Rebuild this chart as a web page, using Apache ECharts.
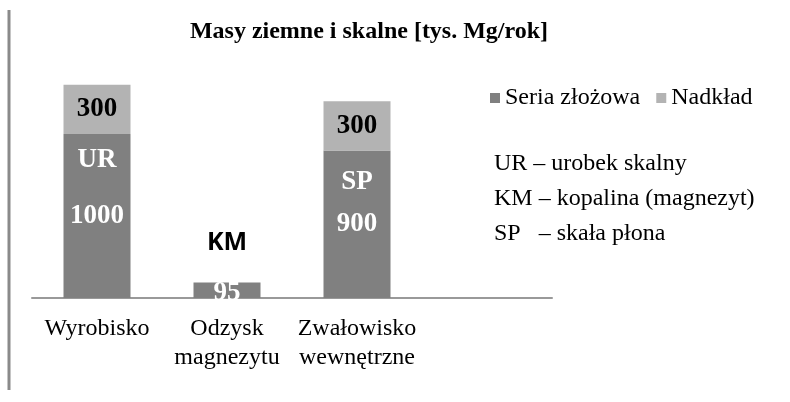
<!DOCTYPE html>
<html>
<head>
<meta charset="utf-8">
<script src="https://cdn.jsdelivr.net/npm/echarts@6/dist/echarts.min.js"></script>
<style>
    html, body { margin: 0; padding: 0; background: #fff; }
    #chart { width: 790px; height: 402px; }
</style>
</head>
<body>
<div id="chart"></div>
<script>
const categories = ["Wyrobisko", "Odzysk\nmagnezytu", "Zwałowisko\nwewnętrzne", ""];
const seriaValues = [1000, 95, 900, null];
const nadkladValues = [300, null, 300, null];
const barTags = ["UR", "KM", "SP", ""];
const notes = ["UR – urobek skalny", "KM – kopalina (magnezyt)", "SP   – skała płona"];

const serif = "Liberation Serif";
const darkGray = "#808080";
const lightGray = "#b3b3b3";

// per-bar gap between tag and value inside the lower segment
const tagGap = [56, 0, 42, 0];

const seriaData = seriaValues.map(function (v, i) {
    if (v === null) return null;
    if (barTags[i] === "KM") {
        return {
            value: v,
            label: {
                formatter: "{k|KM}\n{v|" + v + "}",
                offset: [0, -22],
                rich: {
                    k: { fontFamily: "Open Sans", fontWeight: "bold", fontSize: 25, color: "#000", lineHeight: 50 },
                    v: { fontFamily: serif, fontWeight: "bold", fontSize: 27, color: "#fff", lineHeight: 50 }
                }
            }
        };
    }
    return {
        value: v,
        label: {
            formatter: barTags[i] + "\n" + v,
            lineHeight: tagGap[i],
            offset: [0, -tagGap[i] / 2]
        }
    };
});

const chart = echarts.init(document.getElementById("chart"));
chart.setOption({
    animation: false,
    title: {
        text: "Masy ziemne i skalne [tys. Mg/rok]",
        left: 364,
        top: 15,
        textAlign: "center",
        textStyle: { fontFamily: serif, fontWeight: "bold", fontSize: 24, color: "#000" }
    },
    legend: {
        left: 485,
        top: 81,
        itemWidth: 10,
        itemHeight: 10,
        itemGap: 16,
        icon: "rect",
        textStyle: { fontFamily: serif, fontSize: 24, color: "#000" },
        data: ["Seria złożowa", "Nadkład"]
    },
    grid: { left: 32, right: 238, top: 52, bottom: 104 },
    xAxis: {
        type: "category",
        data: categories,
        axisLine: { lineStyle: { color: "#999", width: 2 } },
        axisTick: { show: false },
        axisLabel: {
            interval: 0,
            margin: 16,
            fontFamily: serif,
            fontSize: 24,
            lineHeight: 29,
            color: "#000"
        }
    },
    yAxis: {
        type: "value",
        min: 0,
        max: 1500,
        show: false,
        splitLine: { show: false }
    },
    series: [
        {
            name: "Seria złożowa",
            type: "bar",
            stack: "total",
            barWidth: 67,
            data: seriaData,
            itemStyle: { color: darkGray },
            label: {
                show: true,
                position: "inside",
                fontFamily: serif,
                fontWeight: "bold",
                fontSize: 27,
                color: "#fff"
            }
        },
        {
            name: "Nadkład",
            type: "bar",
            stack: "total",
            barWidth: 67,
            data: nadkladValues,
            itemStyle: { color: lightGray },
            label: {
                show: true,
                position: "inside",
                fontFamily: serif,
                fontWeight: "bold",
                fontSize: 27,
                color: "#000"
            }
        }
    ],
    graphic: [
        {
            type: "line",
            shape: { x1: 9, y1: 10, x2: 9, y2: 390 },
            style: { stroke: "#8a8a8a", lineWidth: 3 }
        }
    ].concat(notes.map(function (t, i) {
        return {
            type: "text",
            x: 494,
            y: 164 + i * 35,
            style: { text: t, fontFamily: serif, fontSize: 24, fill: "#000", verticalAlign: "middle" }
        };
    }))
});
</script>
</body>
</html>
